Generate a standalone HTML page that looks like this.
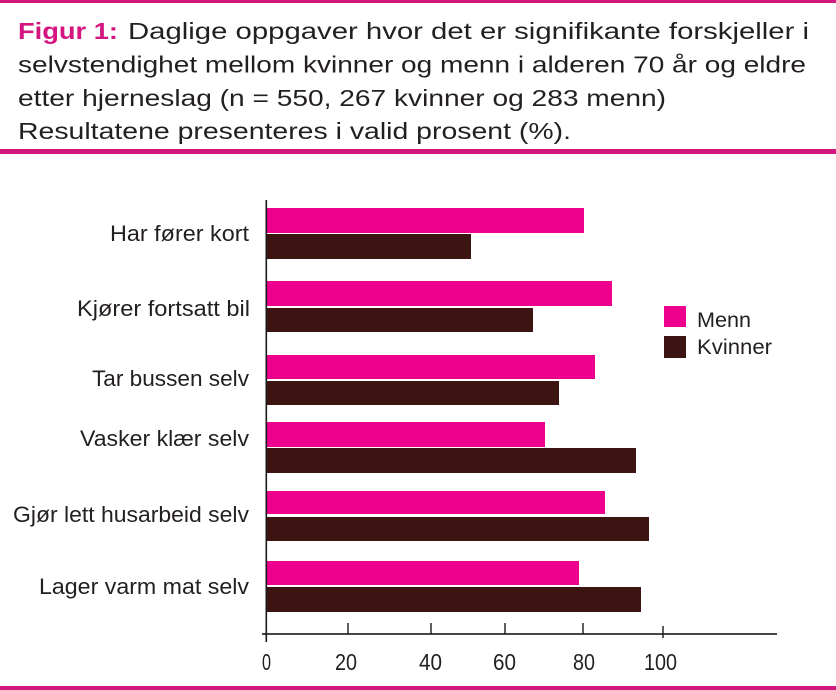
<!DOCTYPE html>
<html>
<head>
<meta charset="utf-8">
<style>
html,body{margin:0;padding:0;background:#fff;}
svg{display:block;}
text{font-family:"Liberation Sans",sans-serif;fill:#231f20;}
</style>
</head>
<body>
<svg width="836" height="690" viewBox="0 0 836 690" xmlns="http://www.w3.org/2000/svg">
<rect x="0" y="0" width="836" height="690" fill="#fff"/>
<!-- top and separator lines -->
<rect x="0" y="0" width="836" height="3" fill="#d2177d"/>
<rect x="0" y="149" width="836" height="5" fill="#d2177d"/>
<rect x="0" y="686" width="836" height="4" fill="#d2177d"/>

<!-- title -->
<text x="18" y="39" font-size="23" font-weight="bold" style="fill:#d4147f" textLength="100" lengthAdjust="spacingAndGlyphs">Figur 1:</text>
<text x="128" y="39" font-size="23" textLength="681" lengthAdjust="spacingAndGlyphs">Daglige oppgaver hvor det er signifikante forskjeller i</text>
<text x="18" y="72.5" font-size="23" textLength="788" lengthAdjust="spacingAndGlyphs">selvstendighet mellom kvinner og menn i alderen 70 år og eldre</text>
<text x="18" y="106" font-size="23" textLength="648" lengthAdjust="spacingAndGlyphs">etter hjerneslag (n = 550, 267 kvinner og 283 menn)</text>
<text x="18" y="139" font-size="23" textLength="553" lengthAdjust="spacingAndGlyphs">Resultatene presenteres i valid prosent (%).</text>

<!-- bars -->
<g>
<rect x="267" y="208" width="317" height="25" fill="#ec008c"/>
<rect x="267" y="234" width="204" height="25" fill="#3c1411"/>
<rect x="267" y="281" width="345" height="25" fill="#ec008c"/>
<rect x="267" y="308" width="266" height="24" fill="#3c1411"/>
<rect x="267" y="355" width="328" height="24" fill="#ec008c"/>
<rect x="267" y="381" width="292" height="24" fill="#3c1411"/>
<rect x="267" y="422" width="278" height="25" fill="#ec008c"/>
<rect x="267" y="448" width="369" height="25" fill="#3c1411"/>
<rect x="267" y="491" width="338" height="23" fill="#ec008c"/>
<rect x="267" y="517" width="382" height="24" fill="#3c1411"/>
<rect x="267" y="561" width="312" height="24" fill="#ec008c"/>
<rect x="267" y="587" width="374" height="25" fill="#3c1411"/>
</g>

<!-- axes -->
<rect x="265.5" y="200" width="1.6" height="442" fill="#1a1a1a"/>
<rect x="262" y="633.2" width="515" height="1.6" fill="#1a1a1a"/>
<rect x="347.3" y="623" width="1.4" height="11" fill="#1a1a1a"/>
<rect x="430.3" y="623" width="1.4" height="11" fill="#1a1a1a"/>
<rect x="504.3" y="623" width="1.4" height="11" fill="#1a1a1a"/>
<rect x="582.3" y="623" width="1.4" height="11" fill="#1a1a1a"/>
<rect x="662.3" y="626" width="1.4" height="12" fill="#1a1a1a"/>

<!-- tick labels -->
<text x="262" y="670" font-size="23" textLength="9" lengthAdjust="spacingAndGlyphs">0</text>
<text x="335" y="670" font-size="23" textLength="22" lengthAdjust="spacingAndGlyphs">20</text>
<text x="419" y="670" font-size="23" textLength="23" lengthAdjust="spacingAndGlyphs">40</text>
<text x="493" y="670" font-size="23" textLength="23" lengthAdjust="spacingAndGlyphs">60</text>
<text x="573" y="670" font-size="23" textLength="22" lengthAdjust="spacingAndGlyphs">80</text>
<text x="644" y="670" font-size="23" textLength="33" lengthAdjust="spacingAndGlyphs">100</text>

<!-- category labels -->
<text x="110" y="241" font-size="22" textLength="139" lengthAdjust="spacingAndGlyphs">Har fører kort</text>
<text x="77" y="316" font-size="22" textLength="173" lengthAdjust="spacingAndGlyphs">Kjører fortsatt bil</text>
<text x="92" y="386" font-size="22" textLength="157" lengthAdjust="spacingAndGlyphs">Tar bussen selv</text>
<text x="80" y="446" font-size="22" textLength="169" lengthAdjust="spacingAndGlyphs">Vasker klær selv</text>
<text x="13" y="522" font-size="22" textLength="236" lengthAdjust="spacingAndGlyphs">Gjør lett husarbeid selv</text>
<text x="39" y="594" font-size="22" textLength="210" lengthAdjust="spacingAndGlyphs">Lager varm mat selv</text>

<!-- legend -->
<rect x="664" y="306" width="22" height="21" fill="#ec008c"/>
<rect x="664" y="336" width="22" height="22" fill="#3c1411"/>
<text x="697" y="327" font-size="21" textLength="54" lengthAdjust="spacingAndGlyphs">Menn</text>
<text x="697" y="354" font-size="21" textLength="75" lengthAdjust="spacingAndGlyphs">Kvinner</text>
</svg>
</body>
</html>
